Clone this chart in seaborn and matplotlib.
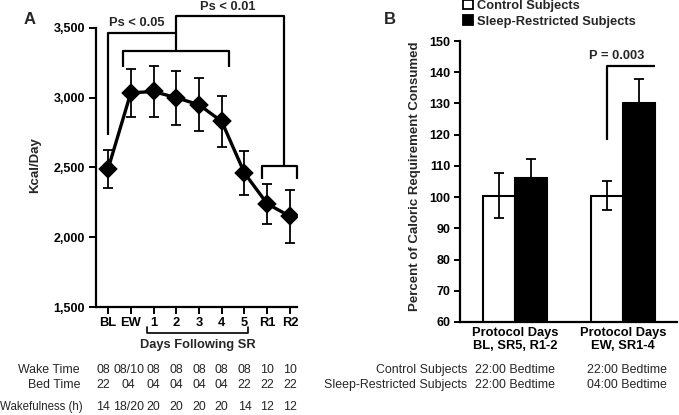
import matplotlib
matplotlib.use('Agg')
import matplotlib.pyplot as plt
import matplotlib.transforms as mtransforms
from matplotlib.patches import Patch
import seaborn as sns
import pandas as pd
import numpy as np

# ---------------- data ----------------
days = ['BL', 'EW', '1', '2', '3', '4', '5', 'R1', 'R2']
kcal = [2490, 3035, 3045, 3000, 2950, 2830, 2460, 2240, 2150]
kcal_err = [135, 170, 185, 195, 190, 180, 160, 145, 190]
kcal_ticks = [1500, 2000, 2500, 3000, 3500]

wake_time = ['08', '08/10', '08', '08', '08', '08', '08', '10', '10']
bed_time = ['22', '04', '04', '04', '04', '04', '22', '22', '22']
wakefulness = ['14', '18/20', '20', '20', '20', '20', '14', '12', '12']
row_labels = ['Wake Time', 'Bed Time', 'Wakefulness (h)']

groups = ['Protocol Days\nBL, SR5, R1-2', 'Protocol Days\nEW, SR1-4']
conditions = ['Control Subjects', 'Sleep-Restricted Subjects']
pct_control = [100.5, 100.5]
pct_control_err = [7.3, 4.7]
pct_sr = [106.2, 130.2]
pct_sr_err = [6.0, 7.6]
pct_ticks = [60, 70, 80, 90, 100, 110, 120, 130, 140, 150]
bedtime_control = ['22:00 Bedtime', '22:00 Bedtime']
bedtime_sr = ['22:00 Bedtime', '04:00 Bedtime']

# ---------------- style ----------------
sns.set_theme(style='ticks')
plt.rcParams['font.family'] = ['Liberation Sans', 'DejaVu Sans']
plt.rcParams['axes.linewidth'] = 1.6
plt.rcParams['xtick.major.width'] = 1.4
plt.rcParams['ytick.major.width'] = 1.4
plt.rcParams['axes.edgecolor'] = 'black'
plt.rcParams['xtick.color'] = 'black'
plt.rcParams['ytick.color'] = 'black'

W, H = 679, 415
fig = plt.figure(figsize=(W / 100, H / 100), dpi=100)
fig.patch.set_facecolor('white')

def fx(px):
    return px / W

def fy(py):
    return 1 - py / H

FS = 9.0
FSL = 9.5
FST = 8.9

# ================= Panel A =================
axA = fig.add_axes([fx(96), fy(307), (297 - 96) / W, (307 - 28) / H])
sns.pointplot(x=days, y=kcal, ax=axA, color='black', markers='D',
              errorbar=None, markersize=8.5, linewidth=2.4)
axA.errorbar(np.arange(len(days)), kcal, yerr=kcal_err, fmt='none',
             ecolor='black', elinewidth=1.3, capsize=3.6, capthick=1.3,
             zorder=1)
axA.set_xlim(-0.53, 8.31)
axA.set_ylim(1500, 3500)
axA.set_yticks(kcal_ticks)
axA.set_yticklabels([f'{v:,}' for v in kcal_ticks], fontsize=FS,
                    fontweight='bold')
axA.set_xticks(np.arange(len(days)))
axA.set_xticklabels(days, fontsize=FS + 0.3, fontweight='bold')
axA.tick_params(axis='y', length=5, pad=3)
axA.tick_params(axis='x', length=5, pad=2)
axA.set_xlabel('')
axA.set_ylabel('')
sns.despine(ax=axA)

lw_b = 1.6
kb = dict(color='black', lw=lw_b, clip_on=False, solid_capstyle='butt')
# Ps < 0.05 bracket
axA.plot([0, 0, 3, 3], [2731, 3467, 3467, 3333], **kb)
axA.plot([0.67, 0.67, 5.33, 5.33], [3220, 3333, 3333, 3220], **kb)
# Ps < 0.01 bracket
axA.plot([3, 3, 7.72, 7.72], [3467, 3588, 3588, 2509], **kb)
axA.plot([6.76, 6.76, 8.33, 8.33], [2415, 2509, 2509, 2415], **kb)
axA.text(1.26, 3536, 'Ps < 0.05', ha='center', va='center',
         fontsize=FS + 0.3, fontweight='bold')
axA.text(5.26, 3648, 'Ps < 0.01', ha='center', va='center',
         fontsize=FS + 0.3, fontweight='bold')

trA = mtransforms.blended_transform_factory(axA.transData, fig.transFigure)
axA.plot([1.7, 1.7, 6.15, 6.15], [fy(327), fy(333), fy(333), fy(327)],
         transform=trA, color='black', lw=1.2, clip_on=False)
fig.text(3.96, fy(345), 'Days Following SR', transform=trA, ha='center',
         va='center', fontsize=FS + 0.3, fontweight='bold')

row_y = [370, 385, 407]
col_shift = [-0.23, -0.1, 0, 0, 0, 0, 0, 0, 0]
for lab, vals, py in zip(row_labels, [wake_time, bed_time, wakefulness], row_y):
    if lab.startswith('Wakefulness'):
        fig.text(fx(0.5), fy(py), lab, ha='left', va='center',
                 fontsize=FST - 0.6)
    else:
        fig.text(fx(80), fy(py), lab, ha='right', va='center', fontsize=FST)
    for i, v in enumerate(vals):
        fig.text(i + col_shift[i], fy(py), v, transform=trA, ha='center',
                 va='center', fontsize=FST)

fig.text(fx(30), fy(20), 'A', ha='center', va='center', fontsize=12,
         fontweight='bold')
fig.text(fx(35), fy(165), 'Kcal/Day', rotation=90, ha='center', va='center',
         fontsize=FSL, fontweight='bold')

# ================= Panel B =================
axB = fig.add_axes([fx(460), fy(322), (677 - 460) / W, (322 - 41) / H])
df = pd.DataFrame({
    'group': groups * 2,
    'condition': [conditions[0]] * 2 + [conditions[1]] * 2,
    'value': pct_control + pct_sr,
})
sns.barplot(data=df, x='group', y='value', hue='condition',
            palette=['white', 'black'], edgecolor='black', linewidth=1.5,
            width=0.6, gap=0, errorbar=None, ax=axB, legend=False)
for cont, errs in zip(axB.containers, [pct_control_err, pct_sr_err]):
    xs = [p.get_x() + p.get_width() / 2 for p in cont]
    ys = [p.get_height() for p in cont]
    axB.errorbar(xs, ys, yerr=errs, fmt='none', ecolor='black',
                 elinewidth=1.3, capsize=3.6, capthick=1.3, zorder=3)
axB.set_xlim(-0.51, 1.5)
axB.set_ylim(60, 150)
axB.set_yticks(pct_ticks)
axB.set_yticklabels([str(v) for v in pct_ticks], fontsize=FS,
                    fontweight='bold')
axB.set_xticks([0, 1])
axB.set_xticklabels(groups, fontsize=FS + 0.3, fontweight='bold')
for lbl in axB.get_xticklabels():
    lbl.set_linespacing(1.15)
axB.tick_params(axis='y', length=4, pad=3)
axB.tick_params(axis='x', length=0, pad=3.5)
axB.set_xlabel('')
axB.set_ylabel('')
sns.despine(ax=axB)

axB.plot([0.85, 0.85, 1.30], [118.3, 142.0, 142.0], **kb)
axB.text(0.94, 145.2, 'P = 0.003', ha='center', va='center',
         fontsize=FS + 0.3, fontweight='bold')

handles = [Patch(facecolor='white', edgecolor='black', linewidth=1.3),
           Patch(facecolor='black', edgecolor='black', linewidth=1.3)]
axB.legend(handles, conditions, loc='upper left',
           bbox_to_anchor=(fx(463), fy(0)), bbox_transform=fig.transFigure,
           frameon=False, handlelength=0.75, handleheight=0.75,
           handletextpad=0.3, labelspacing=0.25, borderpad=0,
           borderaxespad=0, prop={'weight': 'bold', 'size': FS + 0.3})

trB = mtransforms.blended_transform_factory(axB.transData, fig.transFigure)
fig.text(fx(467), fy(370), 'Control Subjects', ha='right', va='center',
         fontsize=FST)
fig.text(fx(467), fy(385), 'Sleep-Restricted Subjects', ha='right',
         va='center', fontsize=FST)
for i, (c, s) in enumerate(zip(bedtime_control, bedtime_sr)):
    xoff = 0.0 if i == 0 else 0.04
    fig.text(i + xoff, fy(370), c, transform=trB, ha='center', va='center',
             fontsize=FST)
    fig.text(i + xoff, fy(385), s, transform=trB, ha='center', va='center',
             fontsize=FST)

fig.text(fx(390), fy(19), 'B', ha='center', va='center', fontsize=12,
         fontweight='bold')
fig.text(fx(415), fy(176), 'Percent of Caloric Requirement Consumed',
         rotation=90, ha='center', va='center', fontsize=FSL,
         fontweight='bold')

fig.savefig('out.png', dpi=100, facecolor='white')
